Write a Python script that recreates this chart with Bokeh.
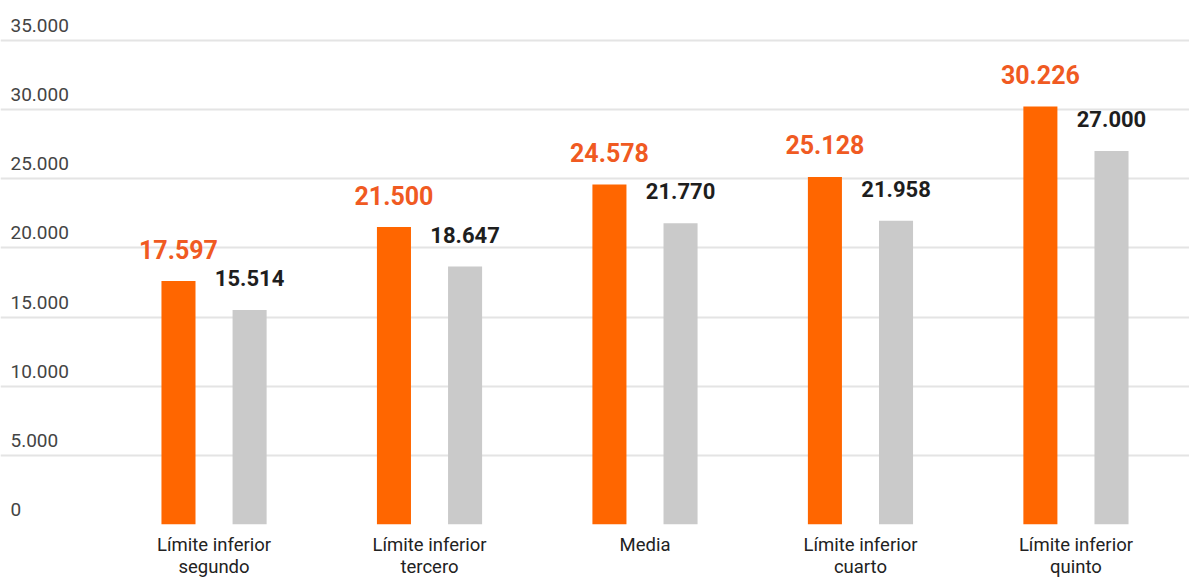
from bokeh.plotting import figure
from bokeh.models import ColumnDataSource, FixedTicker, Range1d
from bokeh.transform import dodge
from bokeh.core.properties import value
from bokeh.embed import file_html
from bokeh.resources import INLINE

# ---- data ----
categories = ["Límite inferior\nsegundo", "Límite inferior\ntercero", "Media",
              "Límite inferior\ncuarto", "Límite inferior\nquinto"]
serie_naranja = [17597, 21500, 24578, 25128, 30226]
serie_gris = [15514, 18647, 21770, 21958, 27000]
y_ticks = [0, 5000, 10000, 15000, 20000, 25000, 30000, 35000]
y_tick_labels = ["0", "5.000", "10.000", "15.000", "20.000", "25.000", "30.000", "35.000"]


def fmt(v):
    return f"{v:,}".replace(",", ".")


xs = list(range(len(categories)))
src = ColumnDataSource(dict(
    x=xs,
    a=serie_naranja,
    b=serie_gris,
    la=[fmt(v) for v in serie_naranja],
    lb=[fmt(v) for v in serie_gris],
))

FONT = "Roboto"
X_START, X_END = -0.991, 4.527

p = figure(width=1189, height=580, output_backend="svg", toolbar_location=None,
           x_range=Range1d(X_START, X_END), y_range=Range1d(0, 37880),
           min_border_left=0, min_border_right=0, min_border_top=0,
           min_border_bottom=10)
p.outline_line_color = None
p.background_fill_color = "white"
p.border_fill_color = "white"

# grid
p.xgrid.visible = False
p.yaxis.visible = False
p.ygrid.ticker = FixedTicker(ticks=y_ticks)
p.ygrid.grid_line_color = "#e4e4e4"
p.ygrid.grid_line_width = 2

# x axis
p.xaxis.ticker = FixedTicker(ticks=xs)
p.xaxis.major_label_overrides = {i: c for i, c in zip(xs, categories)}
p.xaxis.axis_line_color = None
p.xaxis.major_tick_line_color = None
p.xaxis.minor_tick_line_color = None
p.xaxis.major_tick_out = 0
p.xaxis.major_tick_in = 0
p.xaxis.minor_tick_out = 0
p.xaxis.major_label_standoff = 9
p.xaxis.major_label_text_font = FONT
p.xaxis.major_label_text_font_size = "18.5px"
p.xaxis.major_label_text_color = "#222222"
p.xaxis.major_label_text_line_height = 1.0

# bars
p.vbar(x=dodge("x", -0.165, range=p.x_range), top="a", width=0.158, bottom=0,
       source=src, fill_color="#ff6600", line_color=None)
p.vbar(x=dodge("x", 0.165, range=p.x_range), top="b", width=0.158, bottom=0,
       source=src, fill_color="#cacaca", line_color=None)

# value labels
p.text(x=dodge("x", -0.165, range=p.x_range), y="a", text="la", source=src,
       text_align="center", text_baseline="alphabetic", y_offset=-32,
       text_font=value(FONT), text_font_style="bold", text_font_size="25px",
       text_color="#f05a22")
p.text(x=dodge("x", 0.165, range=p.x_range), y="b", text="lb", source=src,
       text_align="center", text_baseline="alphabetic", y_offset=-32,
       text_font=value(FONT), text_font_style="bold", text_font_size="22px",
       text_color="#1e1e1e")

# y tick labels (drawn above grid lines, inside plot)
tick_src = ColumnDataSource(dict(x=[X_START] * len(y_ticks), y=y_ticks, t=y_tick_labels))
p.text(x="x", y="y", text="t", source=tick_src, x_offset=10, y_offset=-15,
       text_align="left", text_baseline="alphabetic",
       text_font=value(FONT), text_font_size="19px", text_color="#444444")

open("out.html", "w").write(file_html(p, INLINE))
